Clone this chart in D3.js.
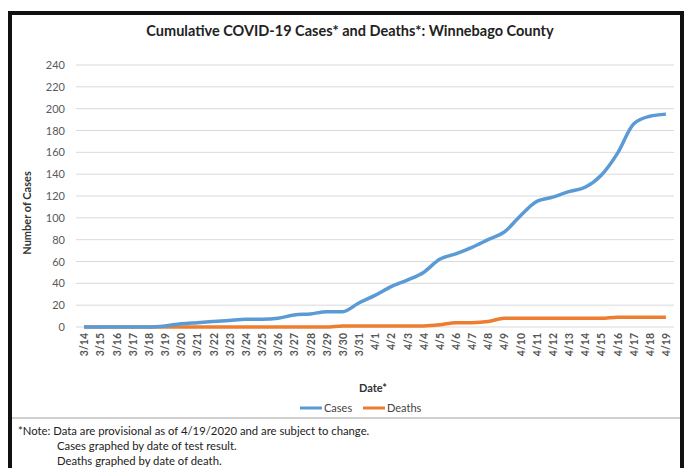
<!DOCTYPE html>
<html>
<head>
<meta charset="utf-8">
<script src="https://cdn.jsdelivr.net/npm/d3@7"></script>
<style>
  body { margin: 0; background: #fff; }
  svg { display: block; font-family: Lato, "Open Sans", sans-serif; }
</style>
</head>
<body>
<svg width="690" height="468"></svg>
<script>
const dates = ['3/14','3/15','3/16','3/17','3/18','3/19','3/20','3/21','3/22','3/23','3/24','3/25',
  '3/26','3/27','3/28','3/29','3/30','3/31','4/1','4/2','4/3','4/4','4/5','4/6','4/7','4/8','4/9',
  '4/10','4/11','4/12','4/13','4/14','4/15','4/16','4/17','4/18','4/19'];
const cases = [0,0,0,0,0,1,3,4,5,6,7,7,8,11,12,14,14,22,29,37,43,50,62,67,73,80,87,
  102,115,119,124,128,139,159,186,193,195];
const deaths = [0,0,0,0,0,0,0,0,0,0,0,0,0,0,0,0,1,1,1,1,1,1,2,4,4,5,8,
  8,8,8,8,8,8,9,9,9,9];
const yTicks = [0,20,40,60,80,100,120,140,160,180,200,220,240];

const svg = d3.select('svg');

// frame
svg.append('rect')
    .attr('x', 10).attr('y', 13)
    .attr('width', 672).attr('height', 470)
    .attr('fill', '#fff')
    .attr('stroke', '#111')
    .attr('stroke-width', 4);

svg.append('text')
    .attr('x', 350).attr('y', 36)
    .attr('text-anchor', 'middle')
    .attr('font-size', 14.5)
    .attr('font-weight', 'bold')
    .attr('fill', '#222')
    .text('Cumulative COVID-19 Cases* and Deaths*: Winnebago County');

const x = d3.scalePoint()
    .domain(dates)
    .range([76, 674])
    .padding(0.5);

const y = d3.scaleLinear()
    .domain([0, 240])
    .range([327, 65]);

// gridlines
svg.append('g')
    .selectAll('line')
    .data(yTicks)
    .join('line')
    .attr('x1', 76).attr('x2', 674)
    .attr('y1', d => y(d)).attr('y2', d => y(d))
    .attr('stroke', '#d9d9d9')
    .attr('stroke-width', 1);

const yAxis = svg.append('g')
    .attr('transform', 'translate(76,0)')
    .call(d3.axisLeft(y).tickValues(yTicks).tickSize(0).tickPadding(11));
yAxis.select('.domain').remove();
yAxis.selectAll('text')
    .attr('font-size', 11)
    .attr('font-family', 'Lato, sans-serif')
    .attr('fill', '#595959');

const xAxis = svg.append('g')
    .attr('transform', 'translate(0,327)')
    .call(d3.axisBottom(x).tickSize(0).tickPadding(0));
xAxis.select('.domain').remove();
xAxis.selectAll('text')
    .attr('font-size', 10.5)
    .attr('font-weight', 'bold')
    .attr('font-family', 'Lato, sans-serif')
    .attr('fill', '#555')
    .attr('text-anchor', 'end')
    .attr('dy', '0.35em')
    .attr('transform', 'translate(0,6) rotate(-90)');

// axis titles
svg.append('text')
    .attr('transform', 'translate(31,213) rotate(-90)')
    .attr('text-anchor', 'middle')
    .attr('font-size', 11)
    .attr('font-weight', 'bold')
    .attr('fill', '#333')
    .text('Number of Cases');

svg.append('text')
    .attr('x', 373).attr('y', 392)
    .attr('text-anchor', 'middle')
    .attr('font-size', 11)
    .attr('font-weight', 'bold')
    .attr('fill', '#333')
    .text('Date*');

// lines
const line = d3.line()
    .x((d, i) => x(dates[i]))
    .y(d => y(d))
    .curve(d3.curveMonotoneX);

svg.append('path')
    .datum(deaths)
    .attr('d', line)
    .attr('fill', 'none')
    .attr('stroke', '#ED7D31')
    .attr('stroke-width', 3.5)
    .attr('stroke-linejoin', 'round');

svg.append('path')
    .datum(cases)
    .attr('d', line)
    .attr('fill', 'none')
    .attr('stroke', '#5B9BD5')
    .attr('stroke-width', 3.5)
    .attr('stroke-linejoin', 'round');

// legend
const legend = [
  { name: 'Cases', color: '#5B9BD5', x: 300 },
  { name: 'Deaths', color: '#ED7D31', x: 363 }
];
const lg = svg.append('g').selectAll('g').data(legend).join('g')
    .attr('transform', d => `translate(${d.x},408)`);
lg.append('line')
    .attr('x1', 0).attr('x2', 22)
    .attr('stroke', d => d.color)
    .attr('stroke-width', 3);
lg.append('text')
    .attr('x', 24).attr('dy', '0.35em')
    .attr('font-size', 11)
    .attr('fill', '#444')
    .text(d => d.name);

// separator
svg.append('line')
    .attr('x1', 12).attr('x2', 680)
    .attr('y1', 418).attr('y2', 418)
    .attr('stroke', '#d0d0d0')
    .attr('stroke-width', 2);

const notes = [
  { t: '*Note: Data are provisional as of 4/19/2020 and are subject to change.', x: 18 },
  { t: 'Cases graphed by date of test result.', x: 57 },
  { t: 'Deaths graphed by date of death.', x: 57 }
];
svg.append('g').selectAll('text').data(notes).join('text')
    .attr('x', d => d.x)
    .attr('y', (d, i) => 435 + i * 15)
    .attr('font-size', 11.3)
    .attr('fill', '#222')
    .text(d => d.t);
</script>
</body>
</html>
